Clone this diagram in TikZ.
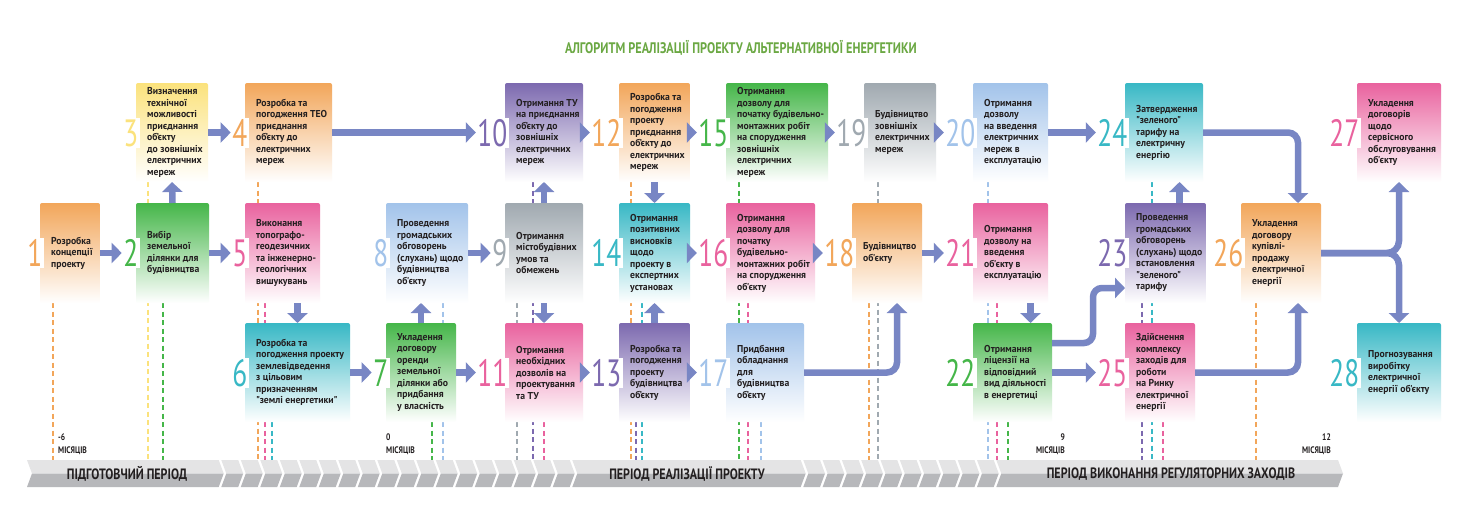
\documentclass[tikz,border=0pt]{standalone}
\usepackage{fontspec}
\setmainfont{PT Sans}
\newfontfamily\cond[FakeStretch=0.97]{PT Sans}
\newfontfamily\condx[FakeStretch=0.8]{PT Sans}
\newfontfamily\numf[FakeStretch=0.72]{PT Sans}
\usetikzlibrary{arrows.meta}
\definecolor{cOr}{HTML}{F2A65A}
\definecolor{cYe}{HTML}{FBE27C}
\definecolor{cGr}{HTML}{45B649}
\definecolor{cPk}{HTML}{E9629E}
\definecolor{cTe}{HTML}{38B8C5}
\definecolor{cPu}{HTML}{7C69AF}
\definecolor{cGy}{HTML}{A0A9B0}
\definecolor{cLb}{HTML}{A2C3EA}
\definecolor{cAr}{HTML}{7886C4}
\definecolor{cTx}{HTML}{231F20}
\definecolor{cTi}{HTML}{6BA843}
\definecolor{cTl}{HTML}{E4E4E5}
\definecolor{cTd}{HTML}{B7B8BB}
\tikzset{
  boxst/.style={rounded corners=2pt, top color=#1, bottom color=white, middle color=#1!50!white, inner sep=0pt, outer sep=0pt},
  txt/.style={font=\cond\bfseries\fontsize{10}{11.5}\selectfont, text=cTx, align=left, inner sep=0pt},
  numst/.style={font=\numf\fontsize{38}{38}\selectfont, fill=white, inner sep=1.5pt, text height=27pt, text depth=0pt},
  arr/.style={draw=cAr, line width=6.5pt, -{Triangle[width=20pt,length=10pt]}},
  dsh/.style={draw=#1, line width=1.1pt, dash pattern=on 5pt off 3.5pt},
  tlab/.style={font=\condx\bfseries\fontsize{15}{15}\selectfont, text=cTx, inner sep=0pt},
  mlab/.style={font=\condx\bfseries\fontsize{9.5}{9.5}\selectfont, text=cTx, inner sep=0pt},
}
\newcommand\bx[7]{%
  \node[boxst={#5}, minimum width={#3-#1}, minimum height={#4-#2}] (b#6) at ({(#1+#3)/2},{(#2+#4)/2}) {};
  \node[txt, anchor=west] (t#6) at ([xshift=11pt]b#6.west) {#7};
  \node[numst, text=#5, anchor=east] (n#6) at ([xshift=4pt]b#6.west) {#6};
}
\newcommand\tseg[2]{%
  \fill[cTl] (#1,460) -- (#2,460) -- ({#2+5},473.5) -- ({#1+5},473.5) -- cycle;
  \fill[cTd] ({#1+5},473.5) -- ({#2+5},473.5) -- (#2,487) -- (#1,487) -- cycle;
}
\begin{document}
\begin{tikzpicture}[x=1pt,y=-1pt]
\fill[white] (0,0) rectangle (1470,525);
\useasboundingbox (0,0) rectangle (1470,525);
\node[font=\condx\bfseries\fontsize{15.3}{15.3}\selectfont, text=cTi] (title) at (741,48) {АЛГОРИТМ РЕАЛІЗАЦІЇ ПРОЕКТУ АЛЬТЕРНАТИВНОЇ ЕНЕРГЕТИКИ};
% dashed guides
\foreach \x/\y/\c in {53/303/cOr, 148/182/cYe, 163/303/cGr, 258/182/cOr, 265/303/cPk, 272/422/cTe, 432/422/cGr, 443/303/cLb, 517/303/cGy, 533/182/cPu, 544/422/cPk, 631/182/cOr, 636/422/cPu, 642/303/cTe, 739/182/cGr, 748/303/cPk, 761/422/cLb, 869/303/cOr, 878/182/cGy, 988/182/cLb, 997/303/cPk, 1008/422/cGr, 1142/303/cPu, 1152/182/cTe, 1163/422/cPk, 1256/303/cOr}
  \draw[dsh=\c] (\x,\y) -- (\x,460);
% timeline
\tseg{27}{218.7}
\foreach \i in {0,...,17} {
  \pgfmathsetmacro\xa{220+19.5*\i+1.3}
  \pgfmathsetmacro\xb{220+19.5*(\i+1)-1.3}
  \tseg{\xa}{\xb}
}
\tseg{572.3}{800.7}
\foreach \i in {0,...,9} {
  \pgfmathsetmacro\xa{802+19.3*\i+1.3}
  \pgfmathsetmacro\xb{802+19.3*(\i+1)-1.3}
  \tseg{\xa}{\xb}
}
\tseg{996.3}{1338}
\node[tlab] (p1) at (127,474) {ПІДГОТОВЧИЙ ПЕРІОД};
\node[tlab] (p2) at (687,474) {ПЕРІОД РЕАЛІЗАЦІЇ ПРОЕКТУ};
\node[tlab] (p3) at (1171,474) {ПЕРІОД ВИКОНАННЯ РЕГУЛЯТОРНИХ ЗАХОДІВ};
\node[mlab, anchor=base west] (m1a) at (58,440) {-6};
\node[mlab, anchor=base west] (m1b) at (58,453) {МІСЯЦІВ};
\node[mlab, anchor=base west] (m2a) at (386,440) {0};
\node[mlab, anchor=base west] (m2b) at (386,453) {МІСЯЦІВ};
\node[mlab, anchor=base east] (m3a) at (1065,440) {9};
\node[mlab, anchor=base east] (m3b) at (1065,453) {МІСЯЦІВ};
\node[mlab, anchor=base east] (m4a) at (1331,440) {12};
\node[mlab, anchor=base east] (m4b) at (1331,453) {МІСЯЦІВ};
% boxes
\bx{40}{203}{100}{303}{cOr}{1}{Розробка\\концепції\\проекту}
\bx{136}{203}{209}{303}{cGr}{2}{Вибір\\земельної\\ділянки для\\будівництва}
\bx{136}{83}{208}{182}{cYe}{3}{Визначення\\технічної\\можливості\\приєднання\\об’єкту\\до зовнішніх\\електричних\\мереж}
\bx{245}{83}{332}{182}{cOr}{4}{Розробка та\\погодження ТЕО\\приєднання\\об’єкту до\\електричних\\мереж}
\bx{245}{203}{320}{303}{cPk}{5}{Виконання\\топографо-\\геодезичних\\та інженерно-\\геологічних\\вишукувань}
\bx{245}{323}{350}{422}{cTe}{6}{Розробка та\\погодження проекту\\землевідведення\\з цільовим\\призначенням\\"землі енергетики"}
\bx{386}{323}{456}{422}{cGr}{7}{Укладення\\договору\\оренди\\земельної\\ділянки або\\придбання\\у власність}
\bx{386}{203}{468}{303}{cLb}{8}{Проведення\\громадських\\обговорень\\(слухань) щодо\\будівництва\\об'єкту}
\bx{505}{203}{583}{303}{cGy}{9}{Отримання\\містобудівних\\умов та\\обмежень}
\bx{505}{83}{583}{182}{cPu}{10}{Отримання ТУ\\на приєднання\\об’єкту до\\зовнішніх\\електричних\\мереж}
\bx{505}{323}{583}{422}{cPk}{11}{Отримання\\необхідних\\дозволів на\\проектування\\та ТУ}
\bx{619}{83}{690}{182}{cOr}{12}{Розробка та\\погодження\\проекту\\приєднання\\об’єкту до\\електричних\\мереж}
\bx{619}{323}{690}{422}{cPu}{13}{Розробка та\\погодження\\проекту\\будівництва\\об’єкту}
\bx{619}{203}{690}{303}{cTe}{14}{Отримання\\позитивних\\висновків\\щодо\\проекту в\\експертних\\установах}
\bx{726}{83}{828}{182}{cGr}{15}{Отримання\\дозволу для\\початку будівельно-\\монтажних робіт\\на спорудження\\зовнішніх\\електричних\\мереж}
\bx{726}{203}{815}{303}{cPk}{16}{Отримання\\дозволу для\\початку\\будівельно-\\монтажних робіт\\на спорудження\\об'єкту}
\bx{726}{323}{804}{422}{cLb}{17}{Придбання\\обладнання\\для\\будівництва\\об’єкту}
\bx{852}{203}{922}{303}{cOr}{18}{Будівництво\\об'єкту}
\bx{864}{83}{936}{182}{cGy}{19}{Будівництво\\зовнішніх\\електричних\\мереж}
\bx{973}{83}{1048}{182}{cLb}{20}{Отримання\\дозволу\\на введення\\електричних\\мереж в\\експлуатацію}
\bx{973}{203}{1048}{303}{cPk}{21}{Отримання\\дозволу на\\введення\\об'єкту в\\експлуатацію}
\bx{973}{323}{1052}{422}{cGr}{22}{Отримання\\ліцензії на\\відповідний\\вид діяльності\\в енергетиці}
\bx{1125}{203}{1206}{303}{cPu}{23}{Проведення\\громадських\\обговорень\\(слухань) щодо\\встановлення\\"зеленого"\\тарифу}
\bx{1125}{83}{1203}{182}{cTe}{24}{Затвердження\\"зеленого"\\тарифу на\\електричну\\енергію}
\bx{1125}{323}{1195}{422}{cPk}{25}{Здійснення\\комплексу\\заходів для\\роботи\\на Ринку\\електричної\\енергії}
\bx{1241}{203}{1321}{303}{cOr}{26}{Укладення\\договору\\купівлі-\\продажу\\електричної\\енергії}
\bx{1357}{83}{1441}{182}{cPk}{27}{Укладення\\договорів\\щодо\\сервісного\\обслуговування\\об'єкту}
\bx{1357}{323}{1441}{422}{cTe}{28}{Прогнозування\\виробітку\\електричної\\енергії об'єкту}
% arrows
\draw[arr] (b1.east) -- (n2.west);
\draw[arr] (b2.north) -- (b3.south);
\draw[arr] (b3.east) -- (n4.west);
\draw[arr] (b2.east) -- (n5.west);
\draw[arr] (b4.east) -- (n10.west);
\draw[arr] (b6.north |- b5.south) -- (b6.north);
\draw[arr] (b6.east) -- (n7.west);
\draw[arr] (b7.north) -- (b7.north |- b8.south);
\draw[arr] (b8.east) -- (n9.west);
\draw[arr] (b9.north) -- (b10.south);
\draw[arr] (b9.south) -- (b11.north);
\draw[arr] (b7.east) -- (n11.west);
\draw[arr] (b10.east) -- (n12.west);
\draw[arr] (b12.south) -- (b14.north);
\draw[arr] (b11.east) -- (n13.west);
\draw[arr] (b13.north) -- (b14.south);
\draw[arr] (b14.east) -- (n16.west);
\draw[arr] (b12.east) -- (n15.west);
\draw[arr] (b13.east) -- (n17.west);
\draw[arr] (b15.east) -- (n19.west);
\draw[arr] (b16.east) -- (n18.west);
\draw[arr, rounded corners=10pt] (b17.east) -| ([xshift=10pt]b18.south);
\draw[arr] (b19.east) -- (n20.west);
\draw[arr] (b18.east) -- (n21.west);
\draw[arr] (b20.east) -- (n24.west);
\draw[arr] ([xshift=20pt]b21.south) -- ([xshift=20pt]b21.south |- b22.north);
\coordinate (k23) at ([yshift=15pt]b23.south west);
\draw[arr, rounded corners=9pt] ([yshift=-20pt]b22.north east) -- ++(41,0) |- (k23);
\draw[arr] (b22.east) -- (n25.west);
\draw[arr] ([xshift=14pt]b23.north) -- ([xshift=14pt]b23.north |- b24.south);
\draw[arr, rounded corners=10pt] (b24.east) -| ([xshift=17pt]b26.north);
\draw[arr, rounded corners=10pt] (b25.east) -| ([xshift=17pt]b26.south);
\draw[arr, rounded corners=12pt] (b26.east) -| (b27.south);
\draw[arr, rounded corners=12pt] (b26.east) -| (b28.north);
\end{tikzpicture}
\end{document}
